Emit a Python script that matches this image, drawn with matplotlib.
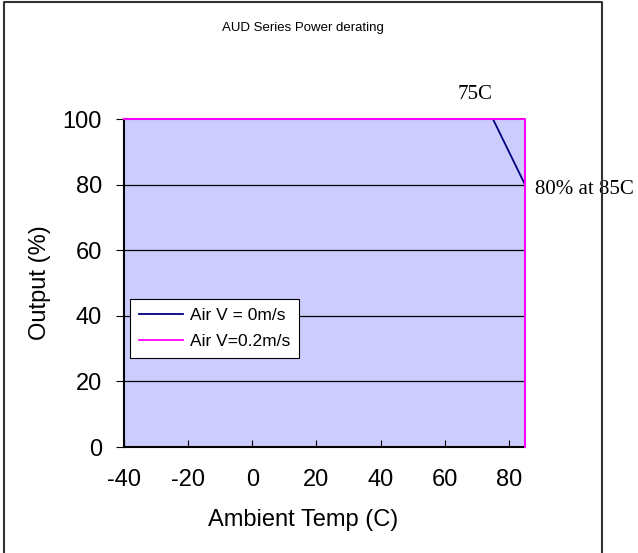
import matplotlib.pyplot as plt
from matplotlib.lines import Line2D

plt.rcParams['font.family'] = ['Liberation Sans', 'DejaVu Sans']
plt.rcParams['axes.unicode_minus'] = False

# derating curves
temp_0ms = [-40, 75, 85]
out_0ms = [100, 100, 80]
temp_02ms = [-40, 85, 85]
out_02ms = [100, 100, 0]

xticks = [-40, -20, 0, 20, 40, 60, 80]
yticks = [0, 20, 40, 60, 80, 100]

fig = plt.figure(figsize=(6.38, 5.53), dpi=100)
ax = fig.add_axes([124/638, 106/553, 401/638, 328/553])
ax.set_facecolor('#ccccff')

# outer chart frame (left, top, right only - bottom runs off the image)
fx = [4/638, 4/638, 602/638, 602/638]
fy = [0, 551/553, 551/553, 0]
fig.lines.append(Line2D(fx, fy, transform=fig.transFigure, color='#333333', lw=1.5))

for yv in yticks[1:-1]:
    ax.axhline(yv, color='black', lw=0.9, zorder=1)

ax.plot(temp_0ms, out_0ms, color='#000080', lw=1.3, label='Air V = 0m/s', zorder=3)
ax.plot(temp_02ms, out_02ms, color='#ff00ff', lw=1.5, label='Air V=0.2m/s', zorder=4,
        clip_on=False)

ax.set_xlim(-40, 85)
ax.set_ylim(0, 100)
ax.set_xticks(xticks)
ax.set_yticks(yticks)
ax.tick_params(axis='y', direction='out', length=6, pad=10, labelsize=17)
ax.tick_params(axis='x', direction='in', length=5, pad=16, labelsize=17)

for s in ['top', 'right']:
    ax.spines[s].set_visible(False)
ax.spines['left'].set_linewidth(1.5)
ax.spines['bottom'].set_linewidth(1.5)

fig.text(303/638, 1 - 28/553, 'AUD Series Power derating', ha='center', va='center', fontsize=9.5)
fig.text(303/638, 1 - 520/553, 'Ambient Temp (C)', ha='center', va='center', fontsize=17)
fig.text(40/638, 1 - 283/553, 'Output (%)', ha='center', va='center', rotation=90, fontsize=17)

ax.text(69.5, 107.5, '75C', ha='center', va='center', fontsize=15,
        family='Liberation Serif', clip_on=False)
ax.text(88, 78.5, '80% at 85C', ha='left', va='center', fontsize=15,
        family='Liberation Serif', clip_on=False)

leg = ax.legend(loc='lower left', bbox_to_anchor=(0.014, 0.27), fontsize=12.5,
                frameon=True, fancybox=False, handlelength=2.5, borderpad=0.55,
                labelspacing=0.6, handletextpad=0.4, borderaxespad=0)
leg.get_frame().set_edgecolor('black')
leg.get_frame().set_linewidth(0.8)
leg.get_frame().set_alpha(1)
for line in leg.get_lines():
    line.set_linewidth(1.3)

fig.savefig('out.png', dpi=100)
